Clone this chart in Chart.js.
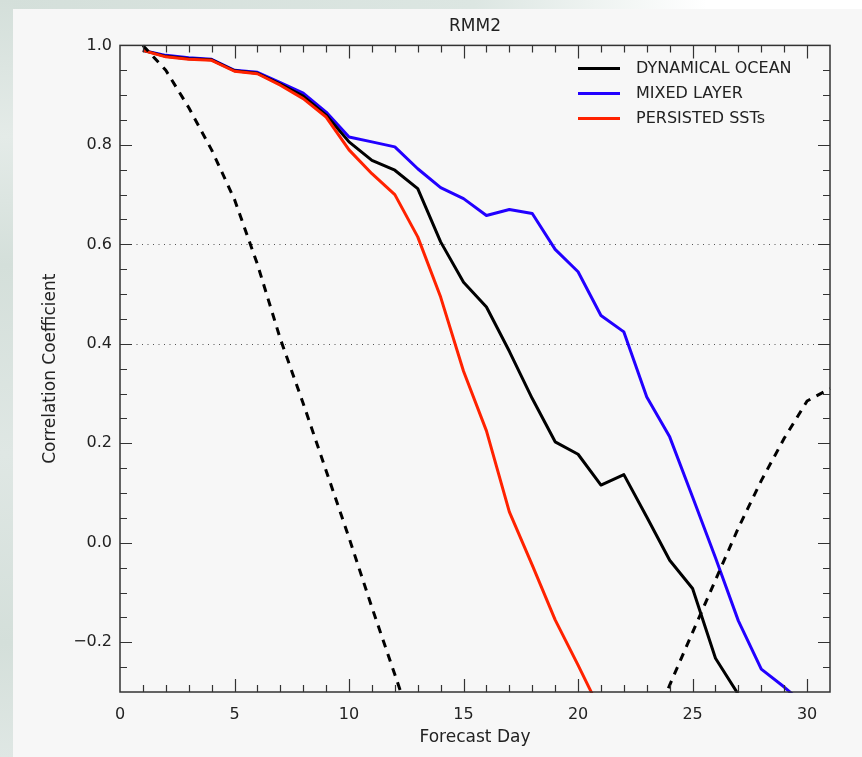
<!DOCTYPE html>
<html>
<head>
<meta charset="utf-8">
<title>RMM2</title>
<script src="https://cdn.jsdelivr.net/npm/chart.js@4.4.1/dist/chart.umd.min.js"></script>
<style>
    html, body { margin: 0; padding: 0; }
    body { width: 862px; height: 757px; background: #f7f7f7; position: relative; overflow: hidden; }
    #topStrip { position: absolute; left: 0; top: 0; width: 862px; height: 9px;
        background: linear-gradient(to right, #d4dfda 0%, #dce6e2 55%, #ffffff 82%); }
    #leftStrip { position: absolute; left: 0; top: 0; width: 13px; height: 757px;
        background: linear-gradient(to bottom, #d4dfda 0%, #e4ebe8 18%, #d4dfda 35%, #dfe7e4 60%, #d4dfda 85%, #dfe7e4 100%); }
    #chartBox { position: absolute; left: 0; top: 0; }
</style>
</head>
<body>
<div id="topStrip"></div>
<div id="leftStrip"></div>
<div id="chartBox"><canvas id="rmmChart" width="862" height="757"></canvas></div>
<script>
// Datos (día de pronóstico -> coeficiente de correlación)
const days = [1, 2, 3, 4, 5, 6, 7, 8, 9, 10, 11, 12, 13, 14, 15, 16, 17, 18, 19, 20,
              21, 22, 23, 24, 25, 26, 27, 28, 29, 30, 31];

const dynamicalOcean = [0.99, 0.978, 0.973, 0.971, 0.949, 0.944, 0.922, 0.898, 0.86, 0.806,
                        0.769, 0.749, 0.712, 0.605, 0.524, 0.474, 0.385, 0.29, 0.203, 0.178,
                        0.116, 0.137, 0.052, -0.035, -0.092, -0.232, -0.305];

const mixedLayer = [0.99, 0.98, 0.975, 0.972, 0.95, 0.946, 0.925, 0.904, 0.866, 0.816,
                    0.806, 0.796, 0.752, 0.714, 0.692, 0.658, 0.67, 0.662, 0.59, 0.545,
                    0.457, 0.424, 0.293, 0.213, 0.092, -0.03, -0.157, -0.254, -0.29, -0.33];

const persistedSST = [0.99, 0.977, 0.972, 0.97, 0.948, 0.943, 0.92, 0.893, 0.856, 0.79,
                      0.742, 0.70, 0.615, 0.494, 0.345, 0.225, 0.062, -0.045, -0.155, -0.246,
                      -0.34];

// Curva discontinua (persistencia)
const persistence = [1.0, 0.95, 0.875, 0.79, 0.69, 0.56, 0.41, 0.28, 0.145, 0.01,
                     -0.13, -0.265, -0.40, -0.52, -0.62, -0.70, -0.75, -0.77, -0.76, -0.71,
                     -0.62, -0.51, -0.40, -0.286, -0.18, -0.075, 0.03, 0.125, 0.21, 0.285,
                     0.31];

const xTicks = [0, 5, 10, 15, 20, 25, 30];
const yTicks = [-0.2, 0.0, 0.2, 0.4, 0.6, 0.8, 1.0];
const refLines = [0.6, 0.4]; // líneas punteadas

const TEXT_COLOR = '#222';
const FONT = 'DejaVu Sans';

function toPoints(values) {
    return values.map((v, i) => ({ x: days[i], y: v }));
}

function fmtY(v) {
    const s = Math.abs(v) < 1e-9 ? '0.0' : v.toFixed(1);
    return s.replace('-', '\u2212');
}

// Ejes estilo IDL: marco completo con marcas hacia dentro, leyenda interna
const idlAxes = {
    id: 'idlAxes',
    beforeDatasetsDraw(chart) {
        const { ctx, chartArea: a, scales: { y } } = chart;
        ctx.save();
        ctx.strokeStyle = '#555';
        ctx.lineWidth = 1;
        ctx.setLineDash([1, 4.5]);
        refLines.forEach(v => {
            const py = Math.round(y.getPixelForValue(v)) + 0.5;
            ctx.beginPath();
            ctx.moveTo(a.left, py);
            ctx.lineTo(a.right, py);
            ctx.stroke();
        });
        ctx.restore();
    },
    afterDatasetsDraw(chart) {
        const { ctx, chartArea: a, scales: { x, y } } = chart;
        ctx.save();
        ctx.strokeStyle = '#333';
        ctx.lineWidth = 1.5;
        ctx.strokeRect(a.left, a.top, a.right - a.left, a.bottom - a.top);

        ctx.lineWidth = 1.2;
        ctx.beginPath();
        // marcas del eje x (cada día, mayores cada 5)
        for (let d = x.min + 1; d < x.max; d++) {
            const px = Math.round(x.getPixelForValue(d)) + 0.5;
            const len = xTicks.includes(d) ? 13 : 7;
            ctx.moveTo(px, a.bottom); ctx.lineTo(px, a.bottom - len);
            ctx.moveTo(px, a.top); ctx.lineTo(px, a.top + len);
        }
        // marcas del eje y (cada 0.05, mayores cada 0.2)
        for (let k = Math.round(y.min * 20) + 1; k < Math.round(y.max * 20); k++) {
            const v = k / 20;
            const py = Math.round(y.getPixelForValue(v)) + 0.5;
            const major = yTicks.some(t => Math.abs(t - v) < 1e-6);
            const len = major ? 12 : 7;
            ctx.moveTo(a.left, py); ctx.lineTo(a.left + len, py);
            ctx.moveTo(a.right, py); ctx.lineTo(a.right - len, py);
        }
        ctx.stroke();
        ctx.restore();
    },
    afterDraw(chart) {
        const { ctx, chartArea: a } = chart;
        ctx.save();
        ctx.font = '16px "' + FONT + '"';
        ctx.textBaseline = 'middle';
        ctx.textAlign = 'left';
        chart.data.datasets.forEach((ds, i) => {
            if (!ds.label) return;
            const yy = a.top + 23 + i * 25;
            ctx.strokeStyle = ds.borderColor;
            ctx.lineWidth = 3;
            ctx.beginPath();
            ctx.moveTo(a.right - 252, yy);
            ctx.lineTo(a.right - 210, yy);
            ctx.stroke();
            ctx.fillStyle = TEXT_COLOR;
            ctx.fillText(ds.label, a.right - 194, yy);
        });
        ctx.restore();
    }
};

const ctx = document.getElementById('rmmChart').getContext('2d');

const rmmChart = new Chart(ctx, {
    type: 'line',
    data: {
        datasets: [
            {
                label: 'DYNAMICAL OCEAN',
                data: toPoints(dynamicalOcean),
                borderColor: '#000000',
                borderWidth: 3,
                order: 2
            },
            {
                label: 'MIXED LAYER',
                data: toPoints(mixedLayer),
                borderColor: '#2200ff',
                borderWidth: 3,
                order: 3
            },
            {
                label: 'PERSISTED SSTs',
                data: toPoints(persistedSST),
                borderColor: '#ff2200',
                borderWidth: 3,
                order: 1
            },
            {
                label: '',
                data: toPoints(persistence),
                borderColor: '#000000',
                borderWidth: 3,
                borderDash: [8, 7],
                order: 0
            }
        ]
    },
    options: {
        responsive: false,
        animation: false,
        events: [],
        elements: {
            point: { radius: 0 },
            line: { tension: 0, fill: false, borderCapStyle: 'butt', borderJoinStyle: 'round' }
        },
        datasets: { line: { clip: 1 } },
        layout: { padding: { left: 0, right: 32, top: 0, bottom: 0 } },
        scales: {
            x: {
                type: 'linear',
                min: 0,
                max: 31,
                afterBuildTicks: s => { s.ticks = xTicks.map(v => ({ value: v })); },
                afterFit: s => { s.height = 65; },
                grid: { display: false, drawTicks: false },
                border: { display: false },
                ticks: {
                    padding: 13,
                    color: TEXT_COLOR,
                    autoSkip: false,
                    maxRotation: 0,
                    font: { family: FONT, size: 16 },
                    callback: v => String(v)
                },
                title: {
                    display: true,
                    text: 'Forecast Day',
                    color: TEXT_COLOR,
                    font: { family: FONT, size: 17 },
                    padding: { top: 0, bottom: 9 }
                }
            },
            y: {
                type: 'linear',
                min: -0.3,
                max: 1.0,
                afterBuildTicks: s => { s.ticks = yTicks.map(v => ({ value: v })); },
                afterFit: s => { s.width = 120; },
                grid: { display: false, drawTicks: false },
                border: { display: false },
                ticks: {
                    padding: 8,
                    color: TEXT_COLOR,
                    autoSkip: false,
                    font: { family: FONT, size: 16 },
                    callback: v => fmtY(v)
                },
                title: {
                    display: true,
                    text: 'Correlation Coefficient',
                    color: TEXT_COLOR,
                    font: { family: FONT, size: 17 },
                    padding: { top: 40, bottom: 0 }
                }
            }
        },
        plugins: {
            legend: { display: false },
            tooltip: { enabled: false },
            title: {
                display: true,
                text: 'RMM2',
                fullSize: false,
                color: TEXT_COLOR,
                font: { family: FONT, size: 17, weight: 'normal' },
                padding: { top: 16, bottom: 9 }
            }
        }
    },
    plugins: [idlAxes]
});
</script>
</body>
</html>
